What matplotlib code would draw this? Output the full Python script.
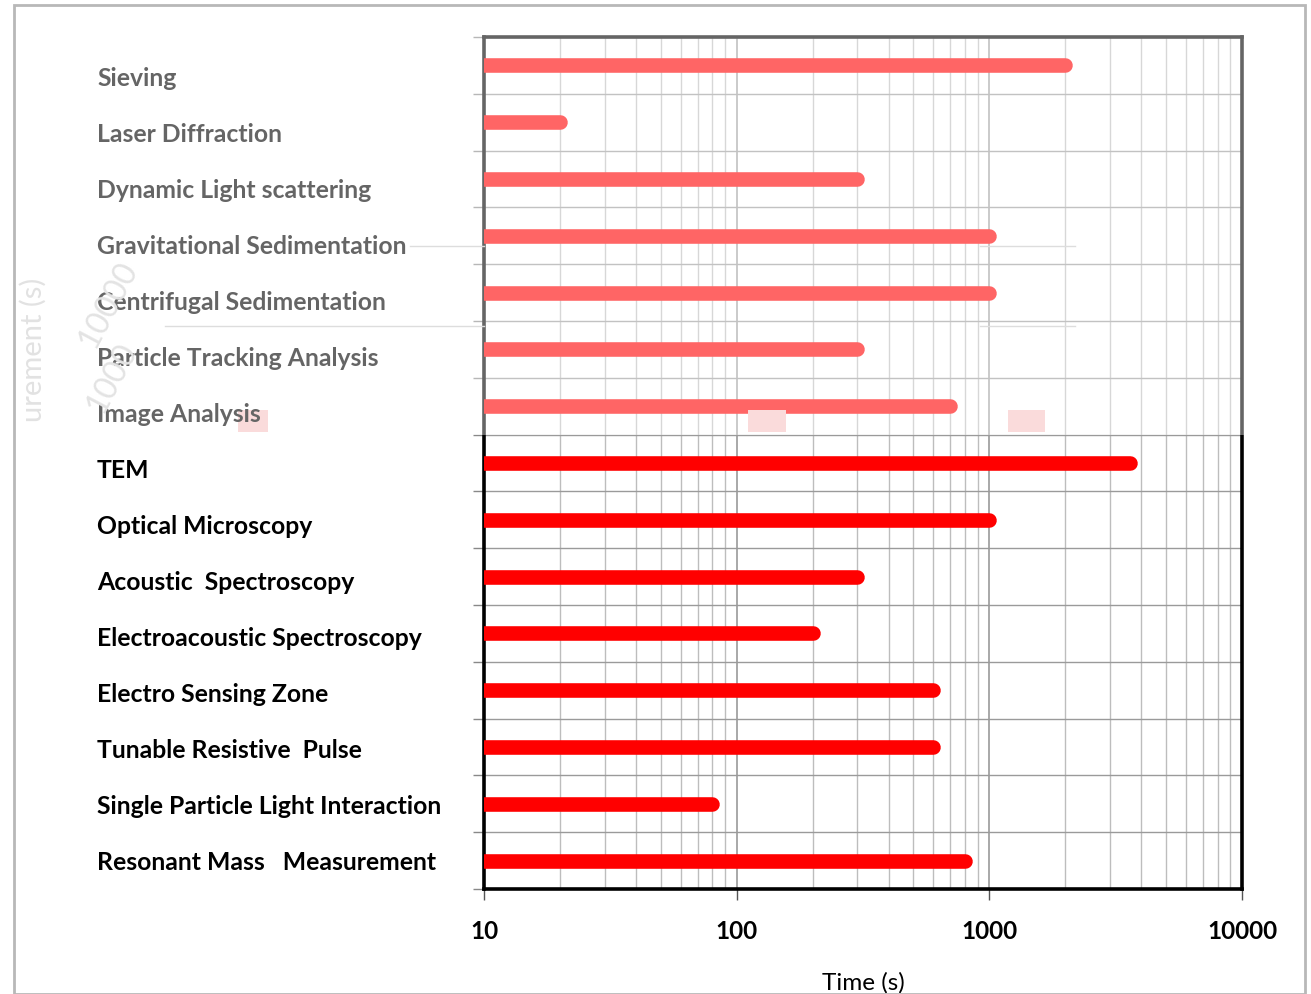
import matplotlib.pyplot as plt
from matplotlib.patches import Rectangle
from matplotlib.lines import Line2D
from matplotlib.ticker import LogLocator, NullFormatter, FixedLocator

plt.rcParams['font.family'] = ['Lato', 'DejaVu Sans']
plt.rcParams['font.weight'] = 'bold'

methods = [
    "Sieving", "Laser Diffraction", "Dynamic Light scattering",
    "Gravitational Sedimentation", "Centrifugal Sedimentation",
    "Particle Tracking Analysis", "Image Analysis", "TEM",
    "Optical Microscopy", "Acoustic  Spectroscopy",
    "Electroacoustic Spectroscopy", "Electro Sensing Zone",
    "Tunable Resistive  Pulse", "Single Particle Light Interaction",
    "Resonant Mass   Measurement",
]
times = [2000, 20, 300, 1000, 1000, 300, 700, 3600,
         1000, 300, 200, 600, 600, 80, 800]
x_ticks = [10, 100, 1000, 10000]
x_start = 10

W, H = 1311, 994
fig = plt.figure(figsize=(W / 100, H / 100), dpi=100)
fig.patch.set_facecolor('white')
ax = fig.add_axes([484 / W, 1 - 889 / H, (1242 - 484) / W, (889 - 37) / H])

# horizontal bars drawn as thick round-capped lines
for i, t in enumerate(times):
    ax.plot([x_start, t], [i, i], color='#ff0000', lw=10.5,
            solid_capstyle='round', zorder=3)

ax.set_xscale('log')
ax.set_xlim(10, 10000)
ax.set_ylim(len(methods) - 0.5, -0.5)

ax.xaxis.set_major_locator(FixedLocator(x_ticks))
ax.xaxis.set_minor_locator(LogLocator(base=10, subs=range(2, 10)))
ax.xaxis.set_minor_formatter(NullFormatter())
ax.set_xticklabels([str(v) for v in x_ticks], fontsize=17.5)
ax.tick_params(axis='x', which='major', length=8, width=1, color='#555555', pad=14)
ax.tick_params(axis='x', which='minor', length=0)
ax.grid(axis='x', which='major', color='#999999', lw=1.2)
ax.grid(axis='x', which='minor', color='#bdbdbd', lw=1.0)

ax.set_yticks([])
ax.set_yticks([i - 0.5 for i in range(len(methods) + 1)], minor=True)
ax.tick_params(axis='y', which='minor', length=8, color='#888888', width=1)
ax.grid(axis='y', which='minor', color='#9a9a9a', lw=1.0)
ax.set_axisbelow(True)

for side in ['left', 'right', 'bottom', 'top']:
    ax.spines[side].set_linewidth(2.6)
    ax.spines[side].set_color('black')

ax.set_xlabel("Time (s)", fontsize=17.5, labelpad=21)

# method names, left aligned in the margin, on their own slightly tighter pitch
label_top, label_step = 78, 56.07
for i, name in enumerate(methods):
    fig.text(97 / W, 1 - (label_top + i * label_step) / H, name,
             ha='left', va='center', fontsize=17.8, color='black', zorder=3)

# faint leftovers of an underlying chart in the upper band
fig.text(33 / W, 1 - 350 / H, "urement (s)", rotation=90, fontsize=21,
         fontweight='normal', color='#cfcfcf', ha='center', va='center')
fig.text(108 / W, 1 - 305 / H, "10000", rotation=62, fontsize=23,
         fontweight='normal', color='#d2d2d2', ha='center', va='center')
fig.text(112 / W, 1 - 378 / H, "1000", rotation=62, fontsize=23,
         fontweight='normal', color='#d2d2d2', ha='center', va='center')
for x0, x1 in [(238, 268), (748, 786), (1008, 1045)]:
    fig.add_artist(Rectangle((x0 / W, 1 - 432 / H), (x1 - x0) / W, 22 / H,
                             transform=fig.transFigure, color='#f7c4c4',
                             zorder=1, lw=0))
for y, x0, x1 in [(246, 410, 484), (246, 980, 1075), (326, 165, 484), (326, 980, 1075)]:
    fig.add_artist(Line2D([x0 / W, x1 / W], [1 - y / H, 1 - y / H],
                          transform=fig.transFigure, color='#c8c8c8', lw=1))

# washed-out upper band
fig.add_artist(Rectangle((0, 1 - 435 / H), 1, 435 / H, transform=fig.transFigure,
                         facecolor='white', alpha=0.4, lw=0, zorder=10))

# outer frame
fig.add_artist(Rectangle((14 / W, 0), (1305 - 14) / W, 1 - 5 / H,
                         transform=fig.transFigure, fill=False,
                         edgecolor='#b8b8b8', lw=2, zorder=11))

fig.savefig('out.png', dpi=100)
